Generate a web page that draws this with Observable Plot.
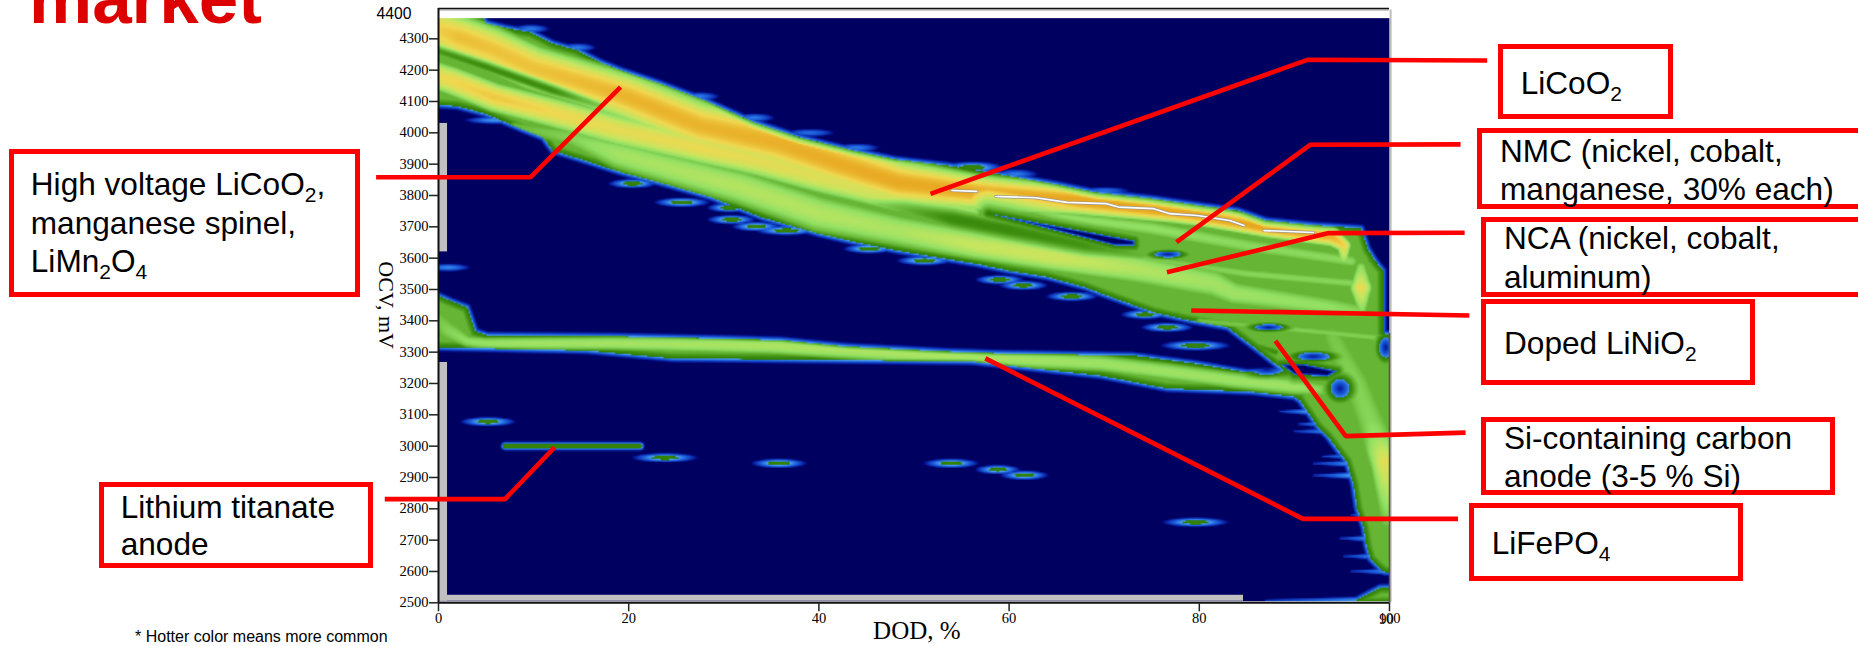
<!doctype html>
<html><head><meta charset="utf-8">
<style>
html,body{margin:0;padding:0;background:#fff;width:1858px;height:646px;overflow:hidden}
#wrap{position:relative;width:1858px;height:646px;overflow:hidden}
#wrap svg{position:absolute;left:0;top:0}
.title{position:absolute;left:29px;top:-49px;font:bold 71px "Liberation Sans",Arial,sans-serif;color:#dc0000;line-height:96px;white-space:nowrap}
.box{position:absolute;box-sizing:border-box;border:5px solid #ff0000;background:#fff}
.lab{position:absolute;font:31.6px/38.3px "Liberation Sans",Arial,sans-serif;color:#000;white-space:nowrap}
.lab sub{font-size:21px;line-height:0;vertical-align:-7px}
.note{position:absolute;left:135px;top:628px;font:16px "Liberation Sans",Arial,sans-serif;color:#000;white-space:nowrap}
</style>
<script src="https://cdn.jsdelivr.net/npm/d3@7"></script>
<script src="https://cdn.jsdelivr.net/npm/@observablehq/plot@0.6"></script>
</head><body><div id="wrap"></div>
<script>
// ---- axis ticks ----
const xTicks = [0,20,40,60,80,100];
const yTicks = [2500,2600,2700,2800,2900,3000,3100,3200,3300,3400,3500,3600,3700,3800,3900,4000,4100,4200,4300];

// ---- outlines of the populated regions (DOD %, OCV mV) ----
const mainDod = [-5,3.5,5,7,9.7,12,14.6,17,19.1,23.3,28,33.2,38,43.6,48,53.6,60.7,65,69,75,80,84,87,92,97,97.7,98.5,99.3,99.3,100.5,105,105,99.5,99,98,97.6,97.3,96.6,96.2,95.5,94.5,93.5,92.5,90.6,89.5,88,86,83,79,75.2,69.6,68,64,60,56.6,52,48.3,44,40,34,28.7,24,19.1,15,12,11,8.5,5,2,-5];
const mainOcv = [4420,4420,4350,4335,4320,4285,4263,4225,4200,4157,4103,4033,3985,3943,3915,3895,3858,3835,3810,3790,3768,3752,3720,3705,3695,3630,3590,3560,3360,3355,3355,2598,2598,2610,2640,2680,2740,2800,2881,2950,2990,3031,3060,3145,3220,3262,3310,3379,3401,3427,3488,3507,3540,3560,3582,3605,3624,3650,3678,3730,3794,3835,3875,3915,3943,3985,4015,4060,4085,4100];
const lfpDod = [-5,0,1.5,3,3.9,5.2,18.8,29.7,36,42.9,53.3,59,73,79.4,85,90,92,90.6,90,85.4,76.6,69.6,56,24.6,15.6,0,-5];
const lfpOcv = [3490,3480,3460,3443,3365,3353,3350,3343,3338,3318,3302,3296,3289,3264,3235,3240,3200,3145,3158,3174,3184,3225,3270,3280,3305,3315,3315];
const cornerDod = [96,99,105,105];
const cornerOcv = [2500,2548,2552,2500];

// ---- ridges of high occurrence: DOD, OCV, half-width (mV), level ----
const licoDod = [-1,2.2,5.5,10,15.5,20,27.4,35.8,42,48.3,56.6,67,77.3,80,87.2,94,95.2,95.2];
const licoOcv = [4340,4304,4269,4207,4157,4113,4023,3966,3902,3842,3810,3784,3746,3736,3695,3667,3640,3600];
const licoWid = [95,95,95,95,95,100,105,110,105,95,75,60,45,45,40,40,30,22];
const licoLvl = [.8,.87,.86,.86,.88,.9,.9,.91,.92,.93,.93,.95,.95,.95,.95,.9,.82,.6];

const hvDod = [-1,1.4,5.9,12,19,27.4,33.6,40,48.3,56];
const hvOcv = [4190,4166,4113,4065,4008,3952,3911,3858,3794,3750];
const hvWid = [62,62,62,65,70,70,70,70,65,50];
const hvLvl = [.76,.8,.84,.8,.76,.78,.76,.74,.7,.55];

const ncaDod = [8,14,19,31.7,40,48.3,56.6,64.9,73.2,81.5,83.6,94,97];
const ncaOcv = [4020,3985,3930,3827,3742,3688,3640,3602,3567,3519,3488,3443,3430];
const ncaWid = [30,50,70,80,85,75,65,65,70,70,60,50,40];
const ncaLvl = [.38,.46,.56,.6,.6,.58,.66,.68,.6,.55,.54,.5,.46];

const nmcDod = [60,66,75,85,96];
const nmcOcv = [3765,3730,3695,3640,3590];
const nmcWid = [14,30,40,40,32];
const nmcLvl = [.4,.5,.5,.48,.48];

const upperStreakDod = [72,85,96];
const upperStreakOcv = [3610,3550,3520];
const upperStreakWid = [20,26,26];
const upperStreakLvl = [.42,.47,.47];

const plateauDod = [0,1,3,5,8,18,35,54,59,69.6,76.6,83.6,90,93];
const plateauOcv = [3400,3370,3335,3328,3328,3328,3320,3286,3280,3264,3238,3210,3190,3180];
const plateauWid = [60,55,30,30,30,32,40,42,40,40,42,40,40,36];
const plateauLvl = [.42,.46,.5,.52,.54,.56,.58,.58,.56,.54,.54,.54,.54,.46];

const kneeDod = [97,97,97.1];
const kneeOcv = [3570,3505,3440];
const kneeWid = [30,48,30];
const kneeLvl = [.5,.78,.5];

const edgeDod = [94,96.5,98,98.6,99.6,99.8,99.8];
const edgeOcv = [3350,3200,3080,3030,2950,2870,2760];
const edgeWid = [70,80,85,80,70,65,50];
const edgeLvl = [.42,.46,.47,.52,.76,.62,.42];

const streakADod = [80,90,99];
const streakAOcv = [3400,3372,3345];
const streakAWid = [18,20,20];
const streakALvl = [.4,.45,.45];

// ---- troughs inside the bands: DOD, OCV, half-width (mV), lowest level ----
const troughADod = [-2,5,12,17];
const troughAOcv = [4280,4210,4135,4085];
const troughAWid = [30,30,30,22];
const troughALvl = [.3,.26,.26,.42];
const troughBDod = [44,49,54,60,68,74];
const troughBOcv = [3780,3755,3725,3690,3640,3610];
const troughBWid = [25,50,62,62,55,35];
const troughBLvl = [.52,.36,.25,.25,.28,.36];
const troughCDod = [84,88];
const troughCOcv = [3340,3300];
const troughCWid = [30,30];
const troughCLvl = [.32,.26];
const troughDDod = [97.9,97.9];
const troughDOcv = [3690,3590];
const troughDWid = [22,22];
const troughDLvl = [.25,.3];

// ---- navy openings ----
const slitDod = [57.8,73.2,73.2,71.1,60.7];
const slitOcv = [3743,3656,3640,3640,3720];
const gapDod = [88.5,91,94.5,93.5,90];
const gapOcv = [3262,3262,3240,3222,3228];
const holeDod = [94.8,92,87.3,76.7,99.6,87.1];
const holeOcv = [3184,3286,3379,3612,3315,3244];
const holeA = [1.0,1.7,1.5,1.4,.7,1.7];
const holeB = [30,13,10,10,33,16];

// ---- isolated occurrences ----
const spotDod = [5.2,23.8,35.8,53.9,58.8,61.6,79.6,20.4,25.6,30.6,30.8,33.4,36.6,45.3,51.1,59,61.5,66.6,74.3,56.1,76.6,79.6,1,6,27.4,33.2,44,60.7,9.7,14.6,39,70];
const spotOcv = [3078,2963,2945,2945,2925,2907,2757,3838,3778,3761,3723,3701,3688,3630,3592,3531,3513,3478,3420,3889,3379,3321,3570,4040,4116,4048,3952,3868,4332,4272,4000,3815];
const spotA   = [3.2,3.8,3.2,3.2,2.6,2.8,3.8,2.8,3.2,2.6,2.8,2.8,3.6,3,3.2,2.8,2.8,3,2.8,3.6,3,4,2.6,3.6,2.4,2.4,2.6,2.6,2.2,2.2,3,3];
const spotB   = [17,17,17,17,17,17,17,17,17,17,17,17,17,17,17,17,17,17,17,22,17,18,14,14,16,16,16,18,16,16,14,14];
const spotL   = [.23,.23,.23,.23,.23,.23,.23,.23,.23,.23,.23,.23,.23,.23,.23,.23,.23,.23,.23,.23,.23,.23,.18,.19,.17,.17,.17,.17,.17,.17,.16,.16];

const barDod = [7,21.2];
const barOcv = [3000,3000];

// ---- blue fringes along the lower edge of the wedge: tip, root ----
const fringeY = [3110,3047,2967,2944,2906,2705,2648,3070,2780,2600,2508];
const fringeX0 = [88.5,90,93,92,92,94.8,95.2,90.5,96,96,87];
const fringeX1 = [91.5,93.8,96.5,96,95.8,98,98.6,92.8,97.5,100,97];

// ---- saturated trace ----
const traceDod = [54,56.6,NaN,58.6,62.8,66.1,70.2,71.5,75.2,76.9,79.8,83.2,84.7,NaN,86.8,92];
const traceOcv = [3816,3813,NaN,3797,3793,3778,3774,3763,3758,3742,3736,3720,3704,NaN,3688,3682];

// ---- leader lines of the call-outs ----
const leaders = {
  highVoltage:[[-6.56,3858],[9.66,3858],[19.14,4146]],
  titanate:[[-5.65,2831],[7,2831],[12.2,2996]],
  licoo2:[[110.27,4231],[91.38,4233],[51.73,3805]],
  nmc:[[107.47,3963],[91.69,3962],[77.6,3651]],
  nca:[[107.9,3681],[93.6,3680],[76.6,3555]],
  doped:[[108.4,3417],[79.15,3433]],
  silicon:[[108,3043],[95.4,3032],[88,3336]],
  lfp:[[107.2,2768],[90.9,2768],[57.5,3280]]
};

// ---- build the occurrence field ----
const K = 9.51/0.3133;           // mV equivalent of one DOD unit on screen
function poly(dod,ocv){ return {x:dod.map(d=>d*K), y:ocv}; }
function line(dod,ocv,w,l){ return {x:dod.map(d=>d*K), y:ocv, w, l}; }
function sdPoly(p,X,Y){
  let best=1e18, inside=false; const n=p.x.length;
  for(let i=0,j=n-1;i<n;j=i++){
    const ax=p.x[j],ay=p.y[j],bx=p.x[i],by=p.y[i];
    const ex=bx-ax,ey=by-ay,wx=X-ax,wy=Y-ay;
    let t=(wx*ex+wy*ey)/(ex*ex+ey*ey); t=t<0?0:t>1?1:t;
    const dx=wx-ex*t,dy=wy-ey*t,d=dx*dx+dy*dy;
    if(d<best)best=d;
    if((ay>Y)!==(by>Y) && X<ex*(Y-ay)/ey+ax) inside=!inside;
  }
  const dist=Math.sqrt(best); return inside?-dist:dist;
}
function ridge(r,X,Y){
  let v=0; const n=r.x.length;
  for(let i=0;i<n-1;i++){
    const ax=r.x[i],ay=r.y[i],ex=r.x[i+1]-ax,ey=r.y[i+1]-ay,wx=X-ax,wy=Y-ay;
    let t=(wx*ex+wy*ey)/(ex*ex+ey*ey); t=t<0?0:t>1?1:t;
    const dx=wx-ex*t,dy=wy-ey*t,w=r.w[i]+(r.w[i+1]-r.w[i])*t,q=(dx*dx+dy*dy)/(w*w);
    if(q<1){const u=(r.l[i]+(r.l[i+1]-r.l[i])*t)*(1-q); if(u>v)v=u;}
  }
  return v;
}
function trough(r,X,Y){
  let lim=1; const n=r.x.length;
  for(let i=0;i<n-1;i++){
    const ax=r.x[i],ay=r.y[i],ex=r.x[i+1]-ax,ey=r.y[i+1]-ay,wx=X-ax,wy=Y-ay;
    let t=(wx*ex+wy*ey)/(ex*ex+ey*ey); t=t<0?0:t>1?1:t;
    const dx=wx-ex*t,dy=wy-ey*t,w=r.w[i]+(r.w[i+1]-r.w[i])*t,q=(dx*dx+dy*dy)/(w*w);
    if(q<1){const l=r.l[i]+(r.l[i+1]-r.l[i])*t,u=l+(1-l)*q; if(u<lim)lim=u;}
  }
  return lim;
}
const regions=[poly(mainDod,mainOcv),poly(lfpDod,lfpOcv),poly(cornerDod,cornerOcv)];
const ridges=[
  line(licoDod,licoOcv,licoWid,licoLvl),line(hvDod,hvOcv,hvWid,hvLvl),
  line(ncaDod,ncaOcv,ncaWid,ncaLvl),line(nmcDod,nmcOcv,nmcWid,nmcLvl),
  line(upperStreakDod,upperStreakOcv,upperStreakWid,upperStreakLvl),
  line(plateauDod,plateauOcv,plateauWid,plateauLvl),line(kneeDod,kneeOcv,kneeWid,kneeLvl),
  line(edgeDod,edgeOcv,edgeWid,edgeLvl),line(streakADod,streakAOcv,streakAWid,streakALvl)
];
const troughs=[
  line(troughADod,troughAOcv,troughAWid,troughALvl),line(troughBDod,troughBOcv,troughBWid,troughBLvl),
  line(troughCDod,troughCOcv,troughCWid,troughCLvl),line(troughDDod,troughDOcv,troughDWid,troughDLvl)
];
const slits=[poly(slitDod,slitOcv),poly(gapDod,gapOcv)];
const bar=line(barDod,barOcv,[17,17],[.235,.235]);
const fringes=fringeY.map((y,i)=>line([fringeX0[i],fringeX1[i]],[y,y],[5,14],[.1,.195]));

function field(dod,ocv){
  const X=dod*K,Y=ocv;
  let sd=1e9;
  for(const p of regions){const s=sdPoly(p,X,Y); if(s<sd)sd=s;}
  let v;
  if(sd>0) v=sd<17?.2*(1-sd/17):0;
  else {
    const d=-sd; v=.2+.16*Math.min(1,d/20);
    const cap=.3+.7*Math.min(1,d/26);
    let top=v;
    for(const r of ridges){const u=ridge(r,X,Y); if(u>top)top=u;}
    v=Math.max(v,Math.min(top,cap));
    for(const t of troughs){const lim=trough(t,X,Y); if(v>lim)v=lim;}
  }
  for(let i=0;i<spotDod.length;i++){
    const a=(dod-spotDod[i])/spotA[i],b=(ocv-spotOcv[i])/spotB[i],q=a*a+b*b;
    if(q<1){const u=spotL[i]*(1-q); if(u>v)v=u;}
  }
  const ub=ridge(bar,X,Y); if(ub>v)v=ub;
  for(const f of fringes){const u=ridge(f,X,Y); if(u>v)v=u;}
  for(const s of slits){
    const z=sdPoly(s,X,Y);
    const lim=z<0?Math.max(0,.19*(1+z/9)):.2+.009*z;
    if(v>lim)v=lim;
  }
  for(let i=0;i<holeDod.length;i++){
    const q=Math.hypot((dod-holeDod[i])/holeA[i],(ocv-holeOcv[i])/holeB[i]);
    const lim=q<1?.06+.13*q:.2+.25*(q-1);
    if(v>lim)v=lim;
  }
  return v;
}

const chart = Plot.plot({
  width:1858, height:646,
  marginLeft:438, marginRight:469, marginTop:7, marginBottom:43.7,
  style:{background:"transparent",overflow:"visible"},
  x:{domain:[0,100]},
  y:{domain:[2500,4400]},
  color:{type:"linear",clamp:true,
    domain:[0,.03,.09,.15,.198,.2,.27,.36,.5,.65,.8,.92,1],
    range:["#000060","#000068","#0c2cb0","#1c62dc","#4a9cf0","#2f7d05","#3f8f10","#66b535","#92e064","#c5e660","#f0d850","#e9ac25","#e49a18"]},
  marks:[
    Plot.raster({fill:field,x1:0,x2:100,y1:2505,y2:4366,pixelSize:1.5}),
    // saturated trace
    Plot.line(traceDod.map((d,i)=>({d,o:traceOcv[i]})),{x:"d",y:"o",stroke:"#9a9a9a",strokeWidth:3,curve:"linear"}),
    Plot.line(traceDod.map((d,i)=>({d,o:traceOcv[i]})),{x:"d",y:"o",stroke:"#ffffff",strokeWidth:1.6,curve:"linear"}),
    // gray margins
    Plot.rect([{a:.05,b:.95,c:3620,d:4030},{a:.05,b:.95,c:2505,d:3267},{a:.05,b:84.65,c:2505,d:2524}],
      {x1:"a",x2:"b",y1:"c",y2:"d",fill:"#c0c0c0"}),
    // frame
    Plot.ruleX([100.12],{y1:2500,y2:4392,stroke:"#bdbdbd",strokeWidth:2}),
    Plot.ruleY([4392],{x1:0,x2:100,stroke:"#b8b8b8",strokeWidth:1.5}),
    Plot.ruleY([4397],{x1:0,x2:100,stroke:"#111",strokeWidth:1.5}),
    Plot.ruleX([0],{y1:2500,y2:4397,stroke:"#111",strokeWidth:2}),
    Plot.ruleX([100],{y1:2500,y2:3360,stroke:"#555",strokeWidth:1.5}),
    Plot.ruleY([2500],{x1:0,x2:100,stroke:"#111",strokeWidth:2}),
    Plot.axisX({ticks:xTicks,tickSize:9,tickPadding:1,tickFormat:d=>String(d),label:null,
      fontFamily:"'Liberation Serif',serif",fontSize:14.5,stroke:"#222",strokeWidth:1.5}),
    Plot.axisY({ticks:yTicks,tickSize:9,tickPadding:1,tickFormat:d=>String(d),label:null,
      fontFamily:"'Liberation Serif',serif",fontSize:14.5,stroke:"#222",strokeWidth:1.5}),
    Plot.text(["90"],{x:100,y:2500,dy:17,dx:-3,fontFamily:"'Liberation Serif',serif",fontSize:14.5,fill:"#000"}),
    Plot.text(["4400"],{x:0,y:4400,dx:-27,dy:6,textAnchor:"end",fontFamily:"'Liberation Sans',Arial,sans-serif",fontSize:15.7,fill:"#000"}),
    Plot.text(["OCV, mV"],{x:0,y:3450,dx:-52,rotate:90,fontFamily:"'Liberation Serif',serif",fontSize:22,fill:"#000"}),
    Plot.text(["DOD, %"],{x:50.3,y:2500,dy:28,fontFamily:"'Liberation Serif',serif",fontSize:25,fill:"#000"}),
    // call-out leaders
    ...Object.values(leaders).map(pts=>Plot.line(pts,{x:d=>d[0],y:d=>d[1],stroke:"#ff0000",strokeWidth:4.6,strokeLinejoin:"miter",strokeLinecap:"butt",curve:"linear"}))
  ]
});
const wrap=document.getElementById("wrap");
wrap.appendChild(chart);

const callouts=[
 {b:[8.7,149,351,147.7],t:[[30.8,195,'High voltage LiCoO<sub>2</sub>,'],[30.8,233.3,'manganese spinel,'],[30.8,271.7,'LiMn<sub>2</sub>O<sub>4</sub>']]},
 {b:[98.7,481.7,274,86],t:[[120.7,517.3,'Lithium titanate'],[120.7,555,'anode']]},
 {b:[1498.3,44.3,174.4,75],t:[[1520.7,93.3,'LiCoO<sub>2</sub>']]},
 {b:[1477.3,128.3,420,80.7],t:[[1500,161.7,'NMC (nickel, cobalt,'],[1500,200,'manganese, 30% each)']]},
 {b:[1481,216.7,420,80],t:[[1504,249,'NCA (nickel, cobalt,'],[1504,287.3,'aluminum)']]},
 {b:[1481,299.3,274,85.7],t:[[1504,353.3,'Doped LiNiO<sub>2</sub>']]},
 {b:[1481,416.7,354,78.3],t:[[1504,448.3,'Si-containing carbon'],[1504,486.7,'anode (3-5 % Si)']]},
 {b:[1469,502.7,274.3,78.3],t:[[1491.7,553.3,'LiFePO<sub>4</sub>']]}
];
for(const c of callouts){
  const d=document.createElement("div");d.className="box";
  d.style.cssText=`left:${c.b[0]}px;top:${c.b[1]}px;width:${c.b[2]}px;height:${c.b[3]}px`;
  wrap.appendChild(d);
}
for(const c of callouts){
  for(const [x,y,h] of c.t){
    const d=document.createElement("div");d.className="lab";
    d.style.left=x+"px";d.style.top=(y-29.7)+"px";d.innerHTML=h;wrap.appendChild(d);
  }
}
const ttl=document.createElement("div");ttl.className="title";ttl.textContent="market";wrap.appendChild(ttl);
const note=document.createElement("div");note.className="note";note.textContent="* Hotter color means more common";wrap.appendChild(note);
</script></body></html>
